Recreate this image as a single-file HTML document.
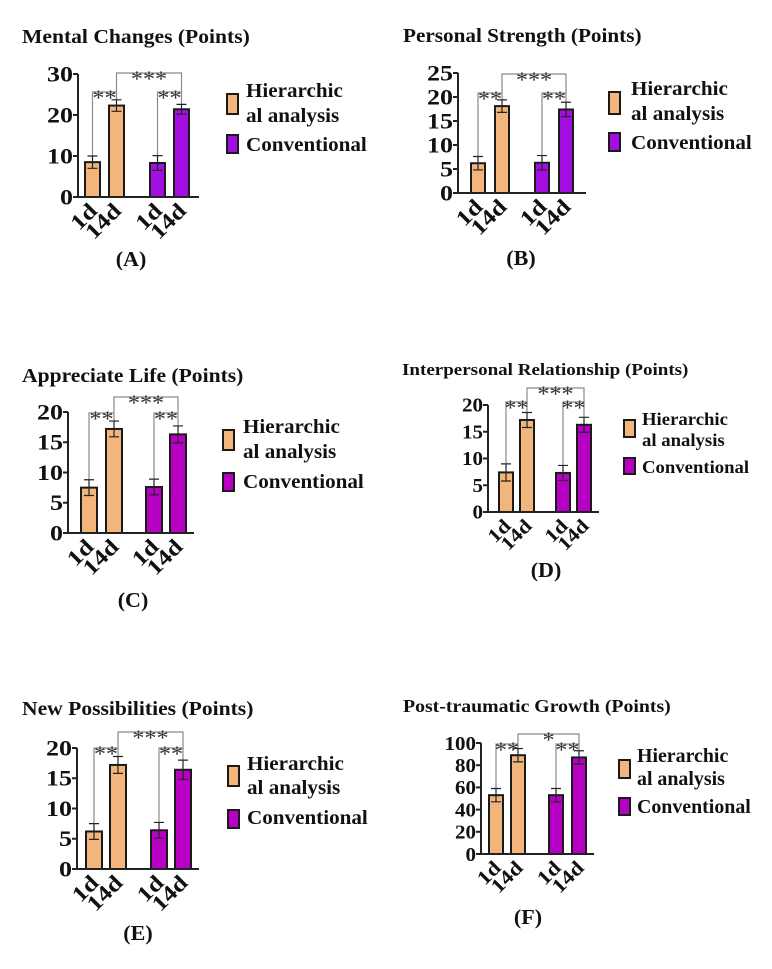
<!DOCTYPE html>
<html><head><meta charset="utf-8">
<style>
html,body{margin:0;padding:0;background:#fff;}
svg{display:block;}
text{font-family:"Liberation Serif",serif;font-weight:bold;fill:#111;}
</style></head>
<body>
<svg id="fig" width="772" height="969" viewBox="0 0 772 969" xmlns="http://www.w3.org/2000/svg"></svg>
<script>
// ---- data (values and SEM) ----
const categories = ["1d","14d","1d","14d"];
const valsA = [8.5, 22.3, 8.3, 21.4];   const errA = [1.5, 1.4, 1.8, 1.2];
const valsB = [6.2, 18.1, 6.3, 17.4];   const errB = [1.4, 1.3, 1.5, 1.5];
const valsC = [7.5, 17.2, 7.6, 16.3];   const errC = [1.3, 1.3, 1.3, 1.4];
const valsD = [7.4, 17.2, 7.3, 16.3];   const errD = [1.6, 1.4, 1.4, 1.4];
const valsE = [6.2, 17.2, 6.4, 16.4];   const errE = [1.3, 1.4, 1.3, 1.6];
const valsF = [53, 89, 53, 87];         const errF = [6, 6, 6, 6];
const ticksA = [0,10,20,30];
const ticksB = [0,5,10,15,20,25];
const ticksC = [0,5,10,15,20];
const ticksD = [0,5,10,15,20];
const ticksE = [0,5,10,15,20];
const ticksF = [0,20,40,60,80,100];
const sigLow = ["**","**"];
const sigTopA = "***", sigTopB = "***", sigTopC = "***", sigTopD = "***", sigTopE = "***", sigTopF = "*";
const legendLabels = ["Hierarchic","al analysis","Conventional"];

const NS = "http://www.w3.org/2000/svg";
const svg = document.getElementById('fig');
function mk(tag, attrs, parent){
  const e = document.createElementNS(NS, tag);
  for (const k in attrs) e.setAttribute(k, attrs[k]);
  (parent||svg).appendChild(e);
  return e;
}
function txt(parent, str, x, y, fs, sx, anchor, rot, extraStyle){
  const tf = `translate(${x} ${y})` + (rot ? ` rotate(${rot})` : '') + ` scale(${sx} 1)`;
  const t = mk('text', {x:0, y:0, 'font-size':fs, 'text-anchor':anchor||'start', transform:tf}, parent);
  if (extraStyle) t.setAttribute('style', extraStyle);
  t.textContent = str;
  return t;
}
const ORANGE = "#F2B67C";

const panels = [
 {id:"a", title:"Mental Changes (Points)", tx:22, ty:43, tfs:20, tsx:1.08, vals:valsA, errs:errA, ticks:ticksA, top:sigTopA,
  ax:78, y0:197, yT:74, bx:[85,109,150,174], bw:15, axEnd:199, purple:"#A20FE0", tkfs:22, tksx:1.18, xfs:22, xsx:1.18,
  lgX:227, lgO:[94,114], lgC:[135,153], lgTx:246, lgB:[97,122,151], lfs:20.5, lsx:1.03, lowY:92, topY:73, lab:"(A)", lx:131, ly:266},
 {id:"b", title:"Personal Strength (Points)", tx:403, ty:42, tfs:20, tsx:1.06, vals:valsB, errs:errB, ticks:ticksB, top:sigTopB,
  ax:458, y0:193, yT:73, bx:[471,495,535,559], bw:14, axEnd:586, purple:"#A20FE0", tkfs:22, tksx:1.18, xfs:22, xsx:1.18,
  lgX:609, lgO:[92,114], lgC:[133,151], lgTx:631, lgB:[95,120,149], lfs:20.5, lsx:1.03, lowY:93, topY:74, lab:"(B)", lx:521, ly:265},
 {id:"c", title:"Appreciate Life (Points)", tx:22, ty:382, tfs:20, tsx:1.08, vals:valsC, errs:errC, ticks:ticksC, top:sigTopC,
  ax:68, y0:533, yT:412, bx:[81,106,146,170], bw:16, axEnd:194, purple:"#B800C4", tkfs:22, tksx:1.18, xfs:22, xsx:1.18,
  lgX:223, lgO:[430,450], lgC:[473,491], lgTx:243, lgB:[433,458,488], lfs:20.5, lsx:1.03, lowY:413, topY:397, lab:"(C)", lx:133, ly:607},
 {id:"d", title:"Interpersonal Relationship (Points)", tx:402, ty:375, tfs:17, tsx:1.12, vals:valsD, errs:errD, ticks:ticksD, top:sigTopD,
  ax:488, y0:512, yT:405, bx:[499,520,556,577], bw:14, axEnd:599, purple:"#B800C4", tkfs:19.5, tksx:1.08, xfs:19.5, xsx:1.15,
  lgX:624, lgO:[420,437], lgC:[458,474], lgTx:642, lgB:[425,446,473], lfs:18, lsx:1.04, lowY:402, topY:388, lab:"(D)", lx:546, ly:577},
 {id:"e", title:"New Possibilities (Points)", tx:22, ty:715, tfs:20, tsx:1.08, vals:valsE, errs:errE, ticks:ticksE, top:sigTopE,
  ax:77, y0:869, yT:748, bx:[86,110,151,175], bw:16, axEnd:199, purple:"#B800C4", tkfs:22, tksx:1.18, xfs:22, xsx:1.18,
  lgX:228, lgO:[766,786], lgC:[810,828], lgTx:247, lgB:[770,794,824], lfs:20.5, lsx:1.03, lowY:748, topY:732, lab:"(E)", lx:138, ly:940},
 {id:"f", title:"Post-traumatic Growth (Points)", tx:403, ty:712, tfs:18, tsx:1.1, vals:valsF, errs:errF, ticks:ticksF, top:sigTopF,
  ax:481, y0:854, yT:743, bx:[489,511,549,572], bw:14, axEnd:594, purple:"#B800C4", tkfs:20, tksx:1.05, xfs:20, xsx:1.15,
  lgX:619, lgO:[760,778], lgC:[798,815], lgTx:637, lgB:[762,785,813], lfs:19.5, lsx:1.02, lowY:744, topY:734, lab:"(F)", lx:528, ly:924}
];

panels.forEach(p=>{
  const g = mk('g', {});
  
  
  const maxT = p.ticks[p.ticks.length-1];
  const y = v => p.y0 - v/maxT*(p.y0-p.yT);
  const cx = i => p.bx[i] + p.bw/2;

  const t = txt(g, p.title, p.tx, p.ty, p.tfs, p.tsx);
  
  

  // significance brackets (grey)
  const br = mk('g', {stroke:"#8a8a8a", 'stroke-width':1.2, fill:"none"}, g);
  
  
  [[0,1],[2,3]].forEach(([a,b],k)=>{
    mk('path', {d:`M${cx(a)},${y(p.vals[a]+p.errs[a])} V${p.lowY} H${cx(b)} V${y(p.vals[b]+p.errs[b])}`}, br);
    const s = txt(g, sigLow[k], (cx(a)+cx(b))/2, p.lowY+13, 22, 1.1, 'middle', 0, 'fill:#333;font-weight:normal');
    
    
  });
  mk('path', {d:`M${cx(1)},${p.lowY} V${p.topY} H${cx(3)} V${p.lowY}`}, br);
  const st = txt(g, p.top, (cx(1)+cx(3))/2, p.topY+13, 22, 1.1, 'middle', 0, 'fill:#333;font-weight:normal');
  
  

  // bars
  p.vals.forEach((v,i)=>{
    const r = mk('rect', {x:p.bx[i], y:y(v), width:p.bw, height:p.y0-y(v), fill: i<2?ORANGE:p.purple, stroke:"#1a1a1a", 'stroke-width':2}, g);
    
    
    const e = p.errs[i], c = cx(i);
    const eb = mk('path', {d:`M${c},${y(v+e)} V${y(v-e)} M${c-5},${y(v+e)} H${c+5} M${c-5},${y(v-e)} H${c+5}`, stroke:"#222", 'stroke-width':1.2, fill:"none"}, g);
    
    
    const xl = txt(g, categories[i], c+6, p.y0+15, p.xfs, p.xsx, 'end', -45);
    
    
  });

  // axes
  const axis = mk('path', {d:`M${p.ax},${p.yT} V${p.y0} H${p.axEnd}`, stroke:"#222", 'stroke-width':2, fill:"none"}, g);
  
  
  p.ticks.forEach(tv=>{
    mk('line', {x1:p.ax-5, x2:p.ax, y1:y(tv), y2:y(tv), stroke:"#222", 'stroke-width':2}, g);
    const tl = txt(g, String(tv), p.ax-5, y(tv)+p.tkfs*0.34, p.tkfs, p.tksx, 'end');
    
    
  });

  // legend
  const lo = mk('rect', {x:p.lgX, y:p.lgO[0], width:11, height:p.lgO[1]-p.lgO[0], fill:ORANGE, stroke:"#1a1a1a", 'stroke-width':2}, g);
  
  
  const lc = mk('rect', {x:p.lgX, y:p.lgC[0], width:11, height:p.lgC[1]-p.lgC[0], fill:p.purple, stroke:"#1a1a1a", 'stroke-width':2}, g);
  
  
  legendLabels.forEach((s,k)=>{
    const lt = txt(g, s, p.lgTx, p.lgB[k], p.lfs, p.lsx);
    
    
  });

  const pl = txt(g, p.lab, p.lx, p.ly, 21, 1.05, 'middle');
  
  
});
</script>
</body></html>
